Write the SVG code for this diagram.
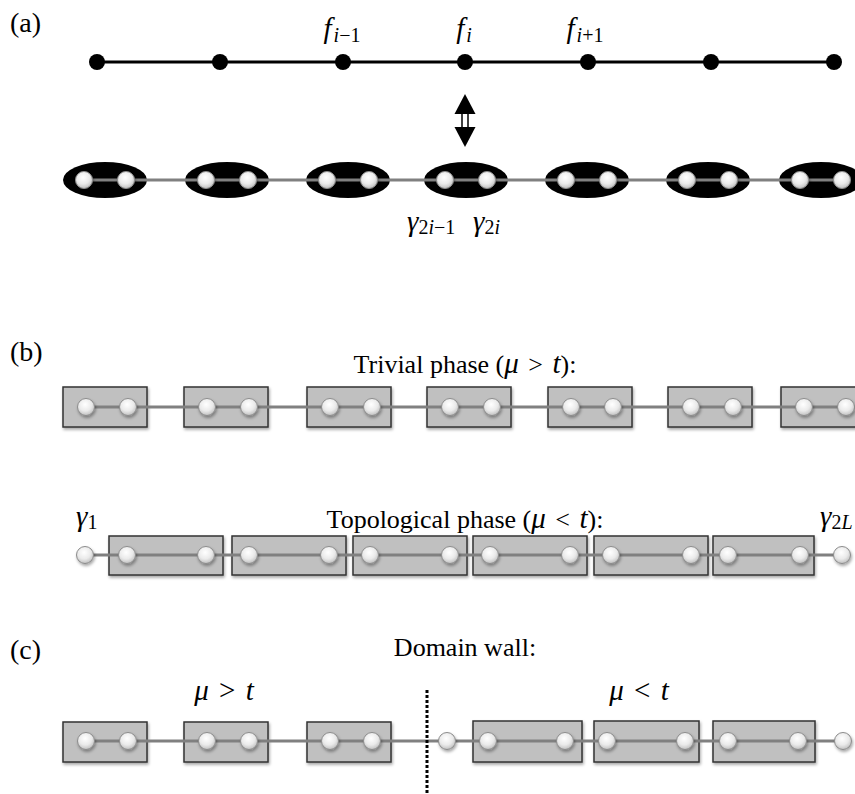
<svg xmlns="http://www.w3.org/2000/svg" width="855" height="794" viewBox="0 0 855 794">
<defs>
<radialGradient id="wg" cx="0.45" cy="0.35" r="0.7">
<stop offset="0" stop-color="#ffffff"/>
<stop offset="0.55" stop-color="#eaeaea"/>
<stop offset="1" stop-color="#b8b8b8"/>
</radialGradient>
<filter id="sh" x="-30%" y="-30%" width="170%" height="180%">
<feDropShadow dx="1" dy="2" stdDeviation="1.5" flood-color="#000" flood-opacity="0.35"/>
</filter>
</defs>
<style>
.t{font-family:"Liberation Serif","Times New Roman",serif;font-size:26px;fill:#000}
.lb{font-size:28px}
.m{font-style:italic}
.mm{font-size:29px}
.s{font-size:20px}
.bk{fill:#000}
.el{fill:#000}
.wd{fill:url(#wg);stroke:#8c8c8c;stroke-width:1;filter:url(#sh)}
.bx{fill:#c0c0c0;stroke:#333;stroke-width:1.5;filter:url(#sh)}
.gl{stroke:#808080;stroke-width:3;fill:none}
.bl{stroke:#000;stroke-width:3;fill:none}
</style>
<rect width="855" height="794" fill="#fff"/>

<!-- panel labels and texts -->
<g id="labels">
<text class="t lb" x="10" y="32">(a)</text>
<text class="t lb" x="10" y="361">(b)</text>
<text class="t lb" x="10" y="659">(c)</text>
<text class="t m mm" x="342" y="38" text-anchor="middle">f<tspan class="s" dx="2" dy="4">i</tspan><tspan class="s" font-style="normal">−1</tspan></text>
<text class="t m mm" x="464" y="38" text-anchor="middle">f<tspan class="s" dx="2" dy="4">i</tspan></text>
<text class="t m mm" x="585" y="38" text-anchor="middle">f<tspan class="s" dx="2" dy="4">i</tspan><tspan class="s" font-style="normal">+1</tspan></text>
<text class="t mm" x="407" y="231"><tspan class="m">γ</tspan><tspan class="s" dy="3">2</tspan><tspan class="s m">i</tspan><tspan class="s">−1</tspan></text>
<text class="t mm" x="473" y="231"><tspan class="m">γ</tspan><tspan class="s" dy="3">2</tspan><tspan class="s m">i</tspan></text>
<text class="t" x="465" y="373" text-anchor="middle">Trivial phase (<tspan class="m mm">μ</tspan> <tspan dx="3">&gt;</tspan> <tspan class="m mm" dx="3">t</tspan>):</text>
<text class="t" x="465" y="528" text-anchor="middle">Topological phase (<tspan class="m mm">μ</tspan> <tspan dx="3">&lt;</tspan> <tspan class="m mm" dx="3">t</tspan>):</text>
<text class="t mm" x="76" y="526"><tspan class="m">γ</tspan><tspan class="s" dy="3">1</tspan></text>
<text class="t mm" x="820" y="526"><tspan class="m">γ</tspan><tspan class="s" dy="3">2</tspan><tspan class="s m">L</tspan></text>
<text class="t" x="465" y="656" text-anchor="middle">Domain wall:</text>
<text class="t mm" x="224" y="700" text-anchor="middle"><tspan class="m">μ</tspan> <tspan dx="3">&gt;</tspan> <tspan class="m" dx="3">t</tspan></text>
<text class="t mm" x="639" y="700" text-anchor="middle"><tspan class="m">μ</tspan> <tspan dx="3">&lt;</tspan> <tspan class="m" dx="3">t</tspan></text>
</g>

<!-- (a) top chain -->
<g id="connectors-a-top">
<line class="bl" x1="97" y1="62" x2="834" y2="62"/>
</g>
<g id="a-sites" class="bk">
<circle id="f1" cx="97" cy="62" r="8"/>
<circle id="f2" cx="220" cy="62" r="8"/>
<circle id="f3" cx="343" cy="62" r="8"/>
<circle id="f4" cx="465" cy="62" r="8"/>
<circle id="f5" cx="588" cy="62" r="8"/>
<circle id="f6" cx="711" cy="62" r="8"/>
<circle id="f7" cx="834" cy="62" r="8"/>
</g>

<!-- double arrow -->
<g id="arrow">
<rect x="462" y="112" width="6" height="17" fill="#fff" stroke="#000" stroke-width="1.5"/>
<polygon points="465,94 454.5,114 475.5,114" fill="#000"/>
<polygon points="454.5,127 475.5,127 465,147" fill="#000"/>
</g>

<!-- (a) bottom: ellipses -->
<g id="a-ellipses">
<ellipse class="el" cx="105" cy="180" rx="42" ry="18"/>
<ellipse class="el" cx="227" cy="180" rx="42" ry="18"/>
<ellipse class="el" cx="348" cy="180" rx="42" ry="18"/>
<ellipse class="el" cx="466" cy="180" rx="42" ry="18"/>
<ellipse class="el" cx="587" cy="180" rx="42" ry="18"/>
<ellipse class="el" cx="708" cy="180" rx="42" ry="18"/>
<ellipse class="el" cx="821" cy="180" rx="42" ry="18"/>
</g>

<!-- (b) boxes -->
<g id="b-trivial-boxes">
<rect class="bx" x="63" y="387" width="84" height="40"/>
<rect class="bx" x="184" y="387" width="84" height="40"/>
<rect class="bx" x="307" y="387" width="84" height="40"/>
<rect class="bx" x="427" y="387" width="84" height="40"/>
<rect class="bx" x="548" y="387" width="84" height="40"/>
<rect class="bx" x="668" y="387" width="84" height="40"/>
<rect class="bx" x="781" y="387" width="84" height="40"/>
</g>
<g id="b-topo-boxes">
<rect class="bx" x="109" y="536" width="114" height="39"/>
<rect class="bx" x="232" y="536" width="114" height="39"/>
<rect class="bx" x="353" y="536" width="114" height="39"/>
<rect class="bx" x="473" y="536" width="114" height="39"/>
<rect class="bx" x="594" y="536" width="114" height="39"/>
<rect class="bx" x="713" y="536" width="101" height="39"/>
</g>
<g id="c-boxes">
<rect class="bx" x="63" y="722" width="84" height="40"/>
<rect class="bx" x="184" y="722" width="84" height="40"/>
<rect class="bx" x="307" y="722" width="84" height="40"/>
<rect class="bx" x="473" y="721" width="109" height="41"/>
<rect class="bx" x="594" y="721" width="105" height="41"/>
<rect class="bx" x="713" y="721" width="102" height="41"/>
</g>

<!-- connectors -->
<g id="connectors">
<line class="gl" x1="84" y1="180" x2="842" y2="180"/>
<line class="gl" x1="86" y1="407" x2="855" y2="407"/>
<line class="gl" x1="85" y1="555" x2="842" y2="555"/>
<line class="gl" x1="86" y1="741" x2="843" y2="741"/>
<line x1="427" y1="690" x2="427" y2="794" stroke="#000" stroke-width="3" stroke-dasharray="3 2"/>
</g>

<!-- Majorana sites -->
<g id="a-majoranas">
<circle class="wd" cx="84" cy="180" r="8.5"/><circle class="wd" cx="126" cy="180" r="8.5"/>
<circle class="wd" cx="206" cy="180" r="8.5"/><circle class="wd" cx="248" cy="180" r="8.5"/>
<circle class="wd" cx="327" cy="180" r="8.5"/><circle class="wd" cx="369" cy="180" r="8.5"/>
<circle class="wd" cx="445" cy="180" r="8.5"/><circle class="wd" cx="487" cy="180" r="8.5"/>
<circle class="wd" cx="566" cy="180" r="8.5"/><circle class="wd" cx="608" cy="180" r="8.5"/>
<circle class="wd" cx="687" cy="180" r="8.5"/><circle class="wd" cx="729" cy="180" r="8.5"/>
<circle class="wd" cx="800" cy="180" r="8.5"/><circle class="wd" cx="842" cy="180" r="8.5"/>
</g>
<g id="b-trivial-majoranas">
<circle class="wd" cx="86" cy="407" r="8.5"/><circle class="wd" cx="128" cy="407" r="8.5"/>
<circle class="wd" cx="207" cy="407" r="8.5"/><circle class="wd" cx="249" cy="407" r="8.5"/>
<circle class="wd" cx="330" cy="407" r="8.5"/><circle class="wd" cx="372" cy="407" r="8.5"/>
<circle class="wd" cx="450" cy="407" r="8.5"/><circle class="wd" cx="492" cy="407" r="8.5"/>
<circle class="wd" cx="571" cy="407" r="8.5"/><circle class="wd" cx="613" cy="407" r="8.5"/>
<circle class="wd" cx="691" cy="407" r="8.5"/><circle class="wd" cx="733" cy="407" r="8.5"/>
<circle class="wd" cx="804" cy="407" r="8.5"/><circle class="wd" cx="846" cy="407" r="8.5"/>
</g>
<g id="b-topo-majoranas">
<circle class="wd" cx="85" cy="555" r="8.5"/>
<circle class="wd" cx="127" cy="555" r="8.5"/><circle class="wd" cx="206" cy="555" r="8.5"/>
<circle class="wd" cx="249" cy="555" r="8.5"/><circle class="wd" cx="329" cy="555" r="8.5"/>
<circle class="wd" cx="370" cy="555" r="8.5"/><circle class="wd" cx="450" cy="555" r="8.5"/>
<circle class="wd" cx="490" cy="555" r="8.5"/><circle class="wd" cx="570" cy="555" r="8.5"/>
<circle class="wd" cx="611" cy="555" r="8.5"/><circle class="wd" cx="691" cy="555" r="8.5"/>
<circle class="wd" cx="728" cy="555" r="8.5"/><circle class="wd" cx="800" cy="555" r="8.5"/>
<circle class="wd" cx="842" cy="555" r="8.5"/>
</g>
<g id="c-majoranas">
<circle class="wd" cx="86" cy="741" r="8.5"/><circle class="wd" cx="128" cy="741" r="8.5"/>
<circle class="wd" cx="207" cy="741" r="8.5"/><circle class="wd" cx="249" cy="741" r="8.5"/>
<circle class="wd" cx="330" cy="741" r="8.5"/><circle class="wd" cx="372" cy="741" r="8.5"/>
<circle class="wd" cx="447" cy="741" r="8.5"/>
<circle class="wd" cx="488" cy="741" r="8.5"/><circle class="wd" cx="565" cy="741" r="8.5"/>
<circle class="wd" cx="607" cy="741" r="8.5"/><circle class="wd" cx="685" cy="741" r="8.5"/>
<circle class="wd" cx="728" cy="741" r="8.5"/><circle class="wd" cx="798" cy="741" r="8.5"/>
<circle class="wd" cx="843" cy="741" r="8.5"/>
</g>
</svg>
